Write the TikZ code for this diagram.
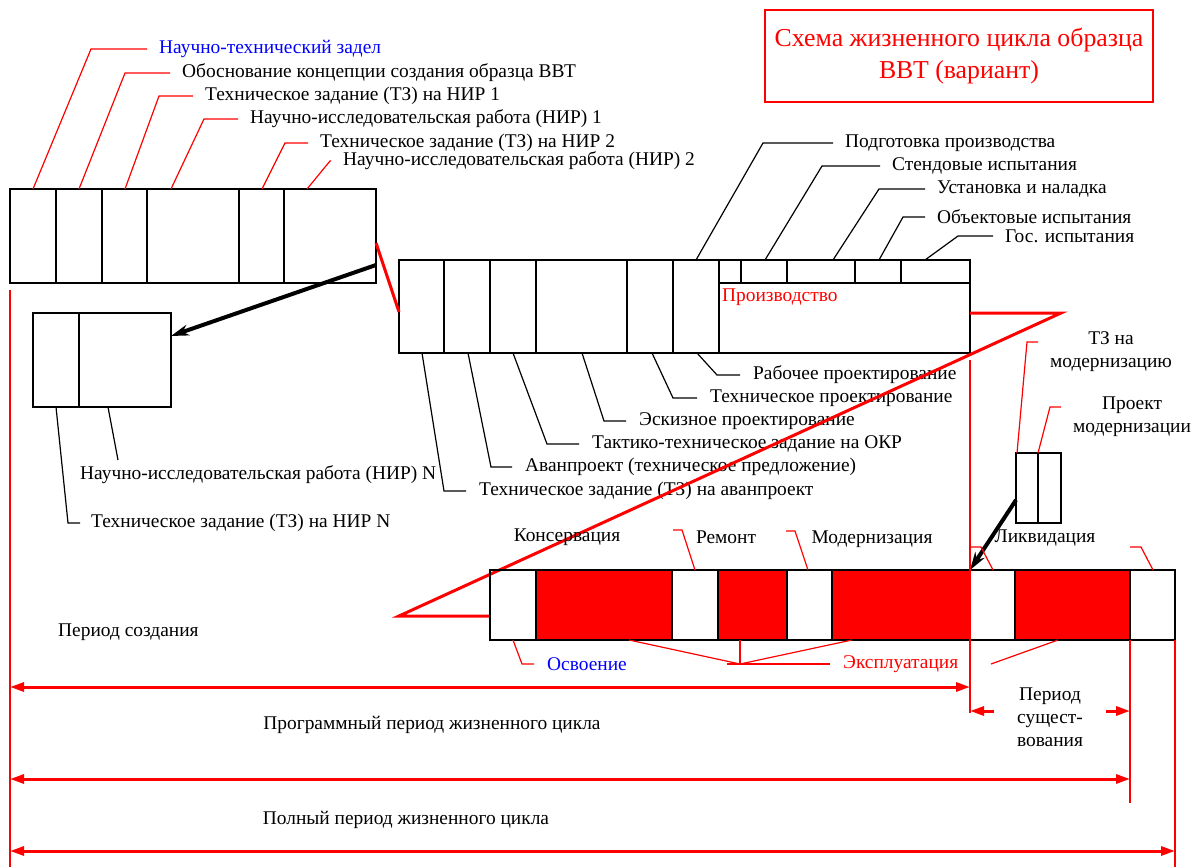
\documentclass[tikz,border=0pt]{standalone}
\usepackage{fontspec}
\setmainfont{Liberation Serif}
\usetikzlibrary{arrows.meta}

\begin{document}
\begin{tikzpicture}[
  x=1pt, y=-1pt,
  box/.style={draw=black, line width=1.4pt},
  lead/.style={draw=black, line width=1.2pt},
  redLead/.style={draw=red, line width=1.2pt},
  redLine/.style={draw=red, line width=3pt},
  redRule/.style={draw=red, line width=2.4pt},
  dimLine/.style={draw=red, line width=3pt, {Triangle[length=14pt,width=9pt]}-{Triangle[length=14pt,width=9pt]}},
  halfDim/.style={draw=red, line width=3pt, -{Triangle[length=14pt,width=9pt]}},
  bigArrow/.style={draw=black, line width=4pt, -{Stealth[length=18pt,width=11pt]}},
  lbl/.style={anchor=west, inner sep=0pt, font=\fontsize{19.4}{23}\selectfont},
  ctr/.style={inner sep=0pt, align=center, font=\fontsize{19.4}{23}\selectfont},
]

\useasboundingbox (0,0) rectangle (1196,867);

\node[draw=red, line width=1.2pt, minimum width=388, minimum height=92, text=red, align=center,
  font=\fontsize{25.8}{32}\selectfont] (titleBox) at (959,56) {Схема жизненного цикла образца\\ВВТ (вариант)};

\draw[box] (10,189) rectangle (376,283);
\foreach \xd in {56,102,147,239,284} \draw[box] (\xd,189) -- (\xd,283);

\foreach[count=\k] \xs/\xb/\xe/\yb/\col/\txt in {
  33/91/147/49/blue/{Научно-технический задел},
  79/125/170/73/black/{Обоснование концепции создания образца ВВТ},
  125/159/193/96/black/{Техническое задание (ТЗ) на НИР 1},
  171/204/238/119/black/{Научно-исследовательская работа (НИР) 1},
  262/285/308/143/black/{Техническое задание (ТЗ) на НИР 2},
  307/330/331/161/black/{Научно-исследовательская работа (НИР) 2}
} {
  \node[lbl, text=\col] (nirLbl\k) at (\xe+12,\yb) {\txt};
  \draw[redLead] (\xs,189) -- (\xb,\yb) -- ([xshift=-12]nirLbl\k.west);
}

\draw[box] (33,313) rectangle (171,407);
\draw[box] (79,313) -- (79,407);
\node[lbl] (nirNLbl) at (80,475) {Научно-исследовательская работа (НИР) N};
\node[lbl] (tzNLbl) at (91,523) {Техническое задание (ТЗ) на НИР N};
\coordinate (nirNTip) at (118,460);
\draw[lead] (108,407) -- (nirNTip);
\draw[lead] (56,407) -- (68,523) -- ([xshift=-11]tzNLbl.west);

\draw[box] (399,260) rectangle (970,353);
\foreach \xd in {444,490,536,627,673,719} \draw[box] (\xd,260) -- (\xd,353);
\draw[box] (719,283) -- (970,283);
\foreach \xd in {741,787,855,901} \draw[box] (\xd,260) -- (\xd,283);
\node[lbl, text=red] (prodLbl) at (722,297) {Производство};

\foreach[count=\k] \xs/\xb/\xe/\yb/\txt in {
  696/763/833/143/{Подготовка производства},
  765/822/880/166/{Стендовые испытания},
  833/879/925/189/{Установка и наладка},
  879/903/925/217/{Объектовые испытания},
  925/958/993/236/{Гос. испытания}
} {
  \node[lbl] (okrLbl\k) at (\xe+12,\yb) {\txt};
  \draw[lead] (\xs,260) -- (\xb,\yb) -- ([xshift=-12]okrLbl\k.west);
}

\foreach[count=\k] \xs/\xb/\xe/\yb/\txt in {
  697/717/740/375/{Рабочее проектирование},
  652/673/697/398/{Техническое проектирование},
  582/604/626/421/{Эскизное проектирование},
  513/547/579/444/{Тактико-техническое задание на ОКР},
  468/491/512/467/{Аванпроект (техническое предложение)},
  422/444/466/491/{Техническое задание (ТЗ) на аванпроект}
} {
  \node[lbl] (designLbl\k) at (\xe+13,\yb) {\txt};
  \draw[lead] (\xs,353) -- (\xb,\yb) -- ([xshift=-13]designLbl\k.west);
}

\draw[redLine] (376,243) -- (399,312);
\draw[redLine] (970,313) -- (1061,313) -- (399,616) -- (490,616);

\draw[box] (1016,453) rectangle (1061,523);
\draw[box] (1038,453) -- (1038,523);
\node[ctr] (tzModLbl) at (1111,352) {ТЗ на\\модернизацию};
\node[ctr] (prModLbl) at (1132,417) {Проект\\модернизации};
\draw[redLead] (1017,453) -- (1027,342) -- (1038,342);
\draw[redLead] (1038,453) -- (1050,407) -- (1061,407);

\foreach \xa/\xb in {536/672,718/787,832/970,1015/1130} \fill[red] (\xa,570) rectangle (\xb,640);
\draw[box] (490,570) rectangle (1175,640);
\foreach \xd in {536,672,718,787,832,970,1015,1130} \draw[box] (\xd,570) -- (\xd,640);

\draw[bigArrow] (376,265) -- (171,336);
\draw[bigArrow] (1016,500) -- (970,570);

\node[ctr] (konsLbl) at (567,537) {Консервация};
\node[ctr] (remLbl) at (726,537) {Ремонт};
\node[ctr] (modLbl) at (872,539) {Модернизация};
\node[ctr] (likLbl) at (1045,538) {Ликвидация};
\foreach \xs/\xb/\xe/\yb in {695/682/673/530, 808/795/786/531, 993/981/970/547, 1153/1141/1130/547}
  \draw[redLead] (\xs,570) -- (\xb,\yb) -- (\xe,\yb);

\node[lbl, text=blue] (osvLbl) at (547,664) {Освоение};
\draw[redLead] (513,640) -- (522,664) -- ([xshift=-13]osvLbl.west);
\node[lbl, text=red] (expLbl) at (843,664) {Эксплуатация};
\coordinate (expFan) at (740,664);
\draw[redLead] (727,664) -- ([xshift=-13]expLbl.west);
\foreach \xs in {629,740,852} \draw[redLead] (\xs,640) -- (expFan);
\draw[redLead] (1058,640) -- (991,664);

\draw[redRule] (10,290) -- (10,867);
\draw[redRule] (970,360) -- (970,713);
\draw[redRule] (1130,640) -- (1130,803);
\draw[redRule] (1175,640) -- (1175,867);

\node[lbl] (sozdLbl) at (58,632) {Период создания};
\node[ctr] (progLbl) at (432,725) {Программный период жизненного цикла};
\node[ctr] (fullLbl) at (406,820) {Полный период жизненного цикла};
\node[ctr] (existLbl) at (1050,717) {Период\\сущест-\\вования};

\draw[dimLine] (10,687) -- (970,687);
\draw[dimLine] (10,779) -- (1130,779);
\draw[dimLine] (10,851) -- (1175,851);
\draw[halfDim] (994,711) -- (970,711);
\draw[halfDim] (1106,711) -- (1130,711);
\end{tikzpicture}
\end{document}
